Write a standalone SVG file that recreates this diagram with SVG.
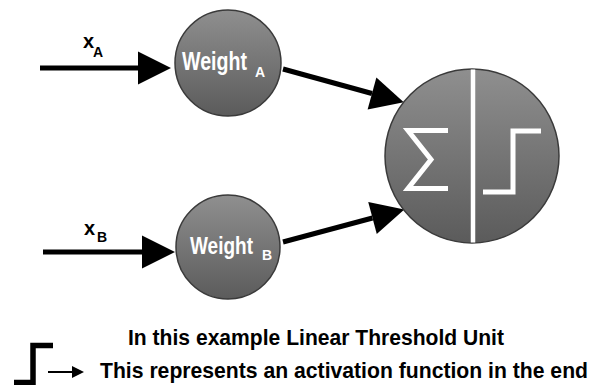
<svg xmlns="http://www.w3.org/2000/svg" width="594" height="385" viewBox="0 0 594 385">
<defs>
<linearGradient id="g" x1="0" y1="0" x2="0" y2="1">
<stop offset="0" stop-color="#8f8f8f"/>
<stop offset="1" stop-color="#5b5b5b"/>
</linearGradient>
<marker id="big" markerUnits="userSpaceOnUse" markerWidth="34" markerHeight="34" refX="0" refY="16" orient="auto" viewBox="0 0 33 32" overflow="visible">
<path d="M0,0 L32,16 L0,32 Z" fill="#000"/>
</marker>
<marker id="small" markerUnits="userSpaceOnUse" markerWidth="12" markerHeight="12" refX="0" refY="5.5" orient="auto" viewBox="0 0 11 11" overflow="visible">
<path d="M0,0 L11,5.5 L0,11 Z" fill="#000"/>
</marker>
</defs>
<style>
.node{fill:url(#g);stroke:#3a3a3a;stroke-width:1.5}
.conn{stroke:#000;stroke-width:5;fill:none}
.wt{font-family:"Liberation Sans",Arial,sans-serif;font-weight:bold;fill:#fff}
.lbl{font-family:"Liberation Sans",Arial,sans-serif;font-weight:bold;fill:#000}
.sym{stroke:#fff;fill:none;stroke-width:5}
</style>
<rect width="594" height="385" fill="#fff"/>
<g id="connectors">
<line class="conn" x1="40" y1="68" x2="138" y2="68" marker-end="url(#big)"/>
<line class="conn" x1="43" y1="252" x2="142" y2="252" marker-end="url(#big)"/>
<line class="conn" x1="283" y1="69" x2="372" y2="93.5" marker-end="url(#big)"/>
<line class="conn" x1="283" y1="242" x2="372.5" y2="218" marker-end="url(#big)"/>
</g>
<g id="input-a">
<text class="lbl" x="83" y="48" font-size="20">x<tspan x="93" y="57" font-size="14">A</tspan></text>
</g>
<g id="input-b">
<text class="lbl" x="84" y="235" font-size="20">x<tspan x="97" y="242" font-size="14">B</tspan></text>
</g>
<g id="weight-a">
<circle class="node" cx="228" cy="63" r="53"/>
<text class="wt" font-size="25"><tspan x="182" y="70" textLength="65" lengthAdjust="spacingAndGlyphs">Weight</tspan><tspan x="255" y="77" font-size="14">A</tspan></text>
</g>
<g id="weight-b">
<circle class="node" cx="228" cy="247" r="52"/>
<text class="wt" font-size="24"><tspan x="190" y="254" textLength="63" lengthAdjust="spacingAndGlyphs">Weight</tspan><tspan x="262" y="260" font-size="14">B</tspan></text>
</g>
<g id="unit">
<circle class="node" cx="472" cy="156" r="87"/>
<line x1="473" y1="69.5" x2="473" y2="242.5" stroke="#fff" stroke-width="4.5"/>
<polyline class="sym" points="448,130.5 408,130.5 431,159.5 408,188.5 448,188.5"/>
<polyline class="sym" points="483,192 513,192 513,131 541,131"/>
</g>
<g id="caption">
<text class="lbl" x="128" y="345" font-size="22" textLength="376" lengthAdjust="spacingAndGlyphs">In this example Linear Threshold Unit</text>
<polyline points="14,382.5 33,382.5 33,345.5 53,345.5" fill="none" stroke="#000" stroke-width="5.5"/>
<line x1="48" y1="372" x2="72" y2="372" stroke="#000" stroke-width="2" marker-end="url(#small)"/>
<text class="lbl" x="100" y="378" font-size="21.5" textLength="488" lengthAdjust="spacingAndGlyphs">This represents an activation function in the end</text>
</g>
</svg>
